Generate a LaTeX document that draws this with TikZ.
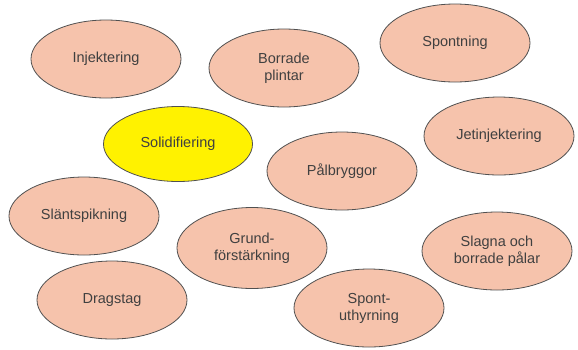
\documentclass[tikz,border=0pt]{standalone}
\usepackage{fontspec}
\setmainfont{Liberation Sans}
\usetikzlibrary{shapes.geometric}

\definecolor{lachs}{RGB}{246,195,172}
\definecolor{rand}{RGB}{80,80,80}
\definecolor{schrift}{RGB}{64,64,64}

\begin{document}
\begin{tikzpicture}[x=1pt, y=-1pt,
  metod/.style={draw=rand, line width=0.8pt, ellipse, fill=lachs, minimum width=150pt, minimum height=78pt, inner sep=0pt, align=center, text=schrift, font=\fontsize{14.5}{17}\selectfont},
  aktiv/.style={metod, fill=yellow}]
  % Rahmen
  \useasboundingbox (0,0) rectangle (578,349);

  % obere Reihe
  \node[metod] (injektering) at (106,59) {Injektering};
  \node[metod] (plintar) at (284,68) {Borrade\\plintar};
  \node[metod] (spontning) at (455,43) {Spontning};

  % mittlere Reihe
  \node[aktiv, minimum width=149pt, minimum height=75pt] (solid) at (178,144) {Solidifiering};
  \node[metod] (jet) at (499,136) {Jetinjektering};
  \node[metod] (pal) at (342,171) {Pålbryggor};

  % untere Reihen
  \node[metod] (slant) at (84,216) {Släntspikning};
  \node[metod, minimum height=81pt] (grund) at (252,248) {Grund-\\förstärkning};
  \node[metod] (slagna) at (497,251) {Slagna och\\borrade pålar};
  \node[metod] (dragstag) at (112,300) {Dragstag};
  \node[metod] (uthyrning) at (369,308) {Spont-\\uthyrning};
\end{tikzpicture}
\end{document}
